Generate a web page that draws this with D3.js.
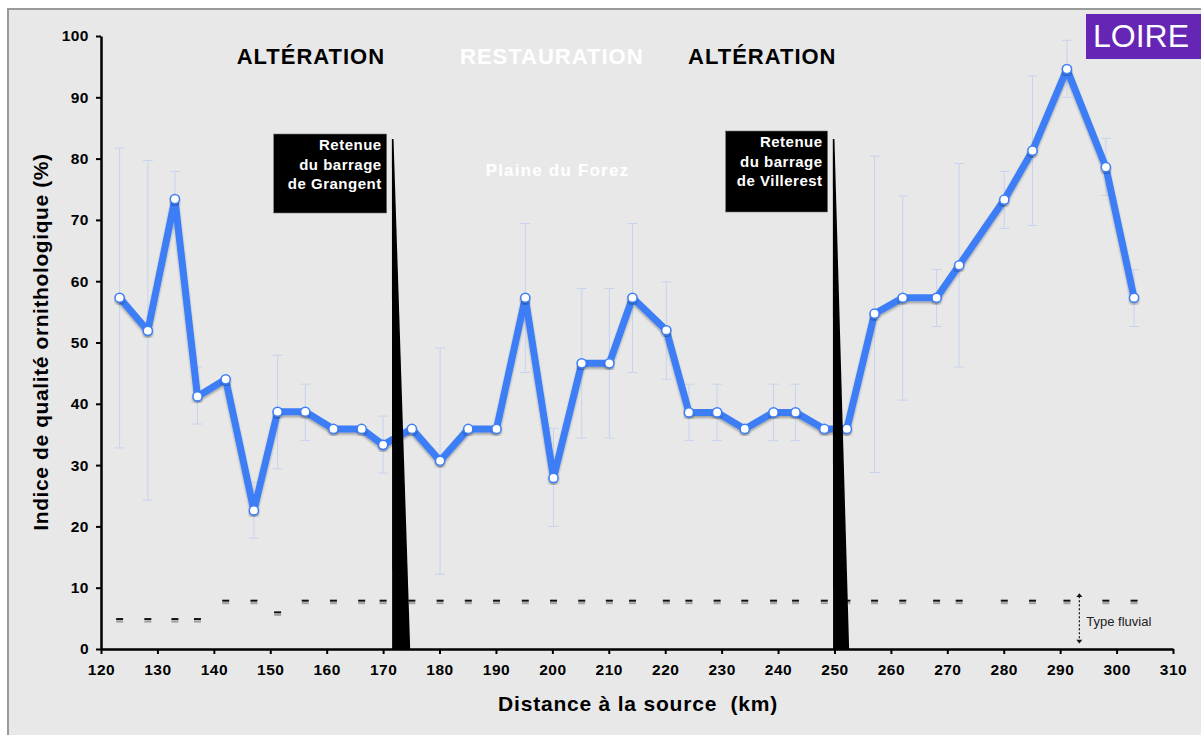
<!DOCTYPE html>
<html>
<head>
<meta charset="utf-8">
<script src="https://cdn.jsdelivr.net/npm/d3@7"></script>
<style>
  body { margin: 0; background: #fff; }
  svg { display: block; font-family: "Liberation Sans", Arial, sans-serif; }
</style>
</head>
<body>
<svg id="chart" width="1201" height="735"></svg>
<script>
// distance to source (km) for each survey point
const distances = [123.3, 128.3, 133.1, 137.1, 142.1, 147.1, 151.3, 156.2, 161.2, 166.2, 170.0, 175.1, 180.1,
  185.1, 190.1, 195.2, 200.2, 205.2, 210.1, 214.2, 220.2, 224.2, 229.2, 234.1, 239.2, 243.1, 248.2, 252.2,
  257.1, 262.1, 268.1, 272.1, 280.1, 285.1, 291.2, 298.1, 303.1];

// indice de qualité ornithologique (%)
const iqo = [57.3, 51.9, 73.4, 41.2, 44.0, 22.6, 38.7, 38.7, 35.9, 35.9, 33.3, 35.9, 30.7,
  35.9, 35.9, 57.3, 27.9, 46.6, 46.6, 57.3, 52.0, 38.6, 38.6, 35.9, 38.6, 38.6, 35.9, 35.9,
  54.7, 57.3, 57.3, 62.6, 73.3, 81.3, 94.6, 78.6, 57.3];

// error bar bounds (null = no bar)
const errHigh = [81.7, 79.7, 77.9, 46.0, null, 27.2, 47.9, 43.2, null, null, 38.0, null, 49.1,
  null, null, 69.4, 36.0, 58.8, 58.8, 69.4, 59.9, 43.2, 43.2, null, 43.2, 43.2, null, null,
  80.4, 73.9, 61.9, 79.2, 77.9, 93.5, 99.3, 83.3, 61.9];
const errLow = [32.8, 24.3, 68.6, 36.7, null, 18.1, 29.4, 34.0, null, null, 28.7, null, 12.2,
  null, null, 45.1, 20.0, 34.4, 34.4, 45.1, 44.0, 34.0, 34.0, null, 34.0, 34.0, null, null,
  28.8, 40.6, 52.6, 46.0, 68.6, 69.1, 90.0, 74.0, 52.6];

// type fluvial reference values
const typeFluvial = [4.8, 4.8, 4.8, 4.8, 7.8, 7.8, 5.9, 7.8, 7.8, 7.8, 7.8, 7.8, 7.8,
  7.8, 7.8, 7.8, 7.8, 7.8, 7.8, 7.8, 7.8, 7.8, 7.8, 7.8, 7.8, 7.8, 7.8, 7.8,
  7.8, 7.8, 7.8, 7.8, 7.8, 7.8, 7.8, 7.8, 7.8];

// dams: km at the top, km at foot left/right, height of the marker
const dams = [
  { name: ['Retenue', 'du barrage', 'de Grangent'], top: 171.7, left: 171.6, right: 174.8, h: 83.2 },
  { name: ['Retenue', 'du barrage', 'de Villerest'], top: 249.85, left: 249.75, right: 252.6, h: 83.2 }
];

// section headers
const sections = [
  { label: 'ALTÉRATION', km: 157.2, color: '#000' },
  { label: 'RESTAURATION', km: 199.9, color: '#fff' },
  { label: 'ALTÉRATION', km: 237.2, color: '#000' }
];

const xTicks = d3.range(120, 311, 10);
const yTicks = d3.range(0, 101, 10);

const svg = d3.select('#chart');

const x = d3.scaleLinear().domain([120, 310]).range([101, 1173]);
const y = d3.scaleLinear().domain([0, 100]).range([649, 36]);

// frame
svg.append('rect')
  .attr('x', 8).attr('y', 9).attr('width', 1210).attr('height', 740)
  .attr('fill', '#e8e8e8').attr('stroke', '#9a9a9a').attr('stroke-width', 2);

const defs = svg.append('defs');
const sh = defs.append('filter').attr('id', 'shadow')
  .attr('x', '-10%').attr('y', '-10%').attr('width', '120%').attr('height', '130%');
sh.append('feDropShadow').attr('dx', 0).attr('dy', 2).attr('stdDeviation', 1)
  .attr('flood-color', '#000').attr('flood-opacity', 0.3);

// section headers
svg.append('g').selectAll('text')
  .data(sections)
  .join('text')
    .attr('x', d => x(d.km))
    .attr('y', 64)
    .attr('text-anchor', 'middle')
    .attr('font-size', 22)
    .attr('letter-spacing', 1)
    .attr('font-weight', 'bold')
    .attr('fill', d => d.color)
    .text(d => d.label);

svg.append('text')
  .attr('x', x(200.9)).attr('y', 176)
  .attr('text-anchor', 'middle')
  .attr('font-size', 17).attr('font-weight', 'bold')
  .attr('letter-spacing', 1.2)
  .attr('fill', '#fff')
  .text('Plaine du Forez');

// LOIRE badge
svg.append('rect')
  .attr('x', 1086).attr('y', 14).attr('width', 120).attr('height', 45)
  .attr('fill', '#6526b5');
svg.append('text')
  .attr('x', 1141).attr('y', 47)
  .attr('text-anchor', 'middle')
  .attr('font-size', 32).attr('fill', '#fff')
  .text('LOIRE');

// error bars
const errData = distances.map((d, i) => ({ d, hi: errHigh[i], lo: errLow[i] }))
  .filter(e => e.hi != null);
const eb = svg.append('g').attr('stroke', '#c7d3ee').attr('stroke-width', 1).attr('fill', 'none');
eb.selectAll('path')
  .data(errData)
  .join('path')
    .attr('d', e => {
      const cx = x(e.d), t = y(e.hi), b = y(e.lo);
      return `M${cx - 5},${t}H${cx + 5}M${cx},${t}V${b}M${cx - 5},${b}H${cx + 5}`;
    });

// type fluvial dashes
const tf = svg.append('g');
tf.selectAll('rect.g')
  .data(distances)
  .join('rect')
    .attr('x', d => x(d) - 3.5)
    .attr('y', (d, i) => y(typeFluvial[i]) + 1)
    .attr('width', 7).attr('height', 2)
    .attr('fill', '#a0a0a0');
tf.selectAll('rect.b')
  .data(distances)
  .join('rect')
    .attr('x', d => x(d) - 3.5)
    .attr('y', (d, i) => y(typeFluvial[i]) - 1.5)
    .attr('width', 7).attr('height', 2)
    .attr('fill', '#111');

// type fluvial arrow
const ax = x(293.4);
svg.append('line')
  .attr('x1', ax).attr('x2', ax)
  .attr('y1', y(8.6)).attr('y2', y(1.4))
  .attr('stroke', '#111').attr('stroke-width', 1.2)
  .attr('stroke-dasharray', '2,2');
svg.append('path')
  .attr('d', `M${ax - 3},${y(8.5)}L${ax},${y(9.1)}L${ax + 3},${y(8.5)}Z`)
  .attr('fill', '#111');
svg.append('path')
  .attr('d', `M${ax - 3},${y(1.5)}L${ax},${y(0.9)}L${ax + 3},${y(1.5)}Z`)
  .attr('fill', '#111');
svg.append('text')
  .attr('x', ax + 7).attr('y', 626)
  .attr('font-size', 13).attr('fill', '#222')
  .text('Type fluvial');

// line + points
const line = d3.line().x(d => x(d[0])).y(d => y(d[1]));
const pts = distances.map((d, i) => [d, iqo[i]]);

svg.append('path')
  .datum(pts)
  .attr('d', line)
  .attr('fill', 'none')
  .attr('stroke', '#3c7ef7')
  .attr('stroke-width', 7)
  .attr('stroke-linejoin', 'round')
  .attr('filter', 'url(#shadow)');

svg.append('g').selectAll('circle')
  .data(pts)
  .join('circle')
    .attr('cx', d => x(d[0]))
    .attr('cy', d => y(d[1]))
    .attr('r', 4.6)
    .attr('fill', '#fff')
    .attr('stroke', '#3c7ef7')
    .attr('stroke-width', 1.5)
    .attr('filter', 'url(#shadow)');

// dams
svg.append('g').selectAll('path')
  .data(dams)
  .join('path')
    .attr('d', d => `M${x(d.top) - 0.8},${y(d.h)}L${x(d.top) + 0.8},${y(d.h)}L${x(d.right)},${y(0)}L${x(d.left)},${y(0)}Z`)
    .attr('fill', '#000');

// dam label boxes
const boxW = [113, 102];
const lab = svg.append('g').selectAll('g')
  .data(dams)
  .join('g')
    .attr('transform', (d, i) => `translate(${x(d.top) - 6},${i === 0 ? 134 : 131})`);
lab.append('rect')
  .attr('x', (d, i) => -boxW[i])
  .attr('width', (d, i) => boxW[i])
  .attr('height', (d, i) => i === 0 ? 79 : 81)
  .attr('fill', '#000')
  .attr('stroke', '#777').attr('stroke-width', 0.6);
lab.selectAll('text')
  .data(d => d.name)
  .join('text')
    .attr('x', -5)
    .attr('y', (t, j) => 16 + j * 19.5)
    .attr('text-anchor', 'end')
    .attr('font-size', 15).attr('font-weight', 'bold')
    .attr('letter-spacing', 0.5)
    .attr('fill', '#fff')
    .text(t => t);

// axes
const xAxis = svg.append('g')
  .attr('transform', `translate(0,${y(0)})`)
  .call(d3.axisBottom(x).tickValues(xTicks).tickSize(5).tickPadding(10).tickSizeOuter(0));
const yAxis = svg.append('g')
  .attr('transform', `translate(${x(120)},0)`)
  .call(d3.axisLeft(y).tickValues(yTicks).tickSize(5).tickPadding(8).tickSizeOuter(0));

[xAxis, yAxis].forEach(g => {
  g.select('.domain').attr('stroke', '#000').attr('stroke-width', 2.5);
  g.selectAll('.tick line').attr('stroke', '#000').attr('stroke-width', 2);
  g.selectAll('.tick text')
    .attr('font-family', '"Liberation Sans", Arial, sans-serif')
    .attr('font-size', 15.5).attr('font-weight', 'bold')
    .attr('letter-spacing', 0.5).attr('fill', '#000');
});
yAxis.selectAll('.tick text').attr('x', -12);

svg.append('text')
  .attr('x', 638).attr('y', 711)
  .attr('text-anchor', 'middle')
  .attr('font-size', 21).attr('font-weight', 'bold')
  .attr('letter-spacing', 0.8)
  .attr('xml:space', 'preserve')
  .style('white-space', 'pre')
  .text('Distance à la source  (km)');

svg.append('text')
  .attr('transform', 'translate(48,342) rotate(-90)')
  .attr('text-anchor', 'middle')
  .attr('font-size', 21).attr('font-weight', 'bold')
  .attr('letter-spacing', 0.6)
  .text('Indice de qualité ornithologique (%)');
</script>
</body>
</html>
